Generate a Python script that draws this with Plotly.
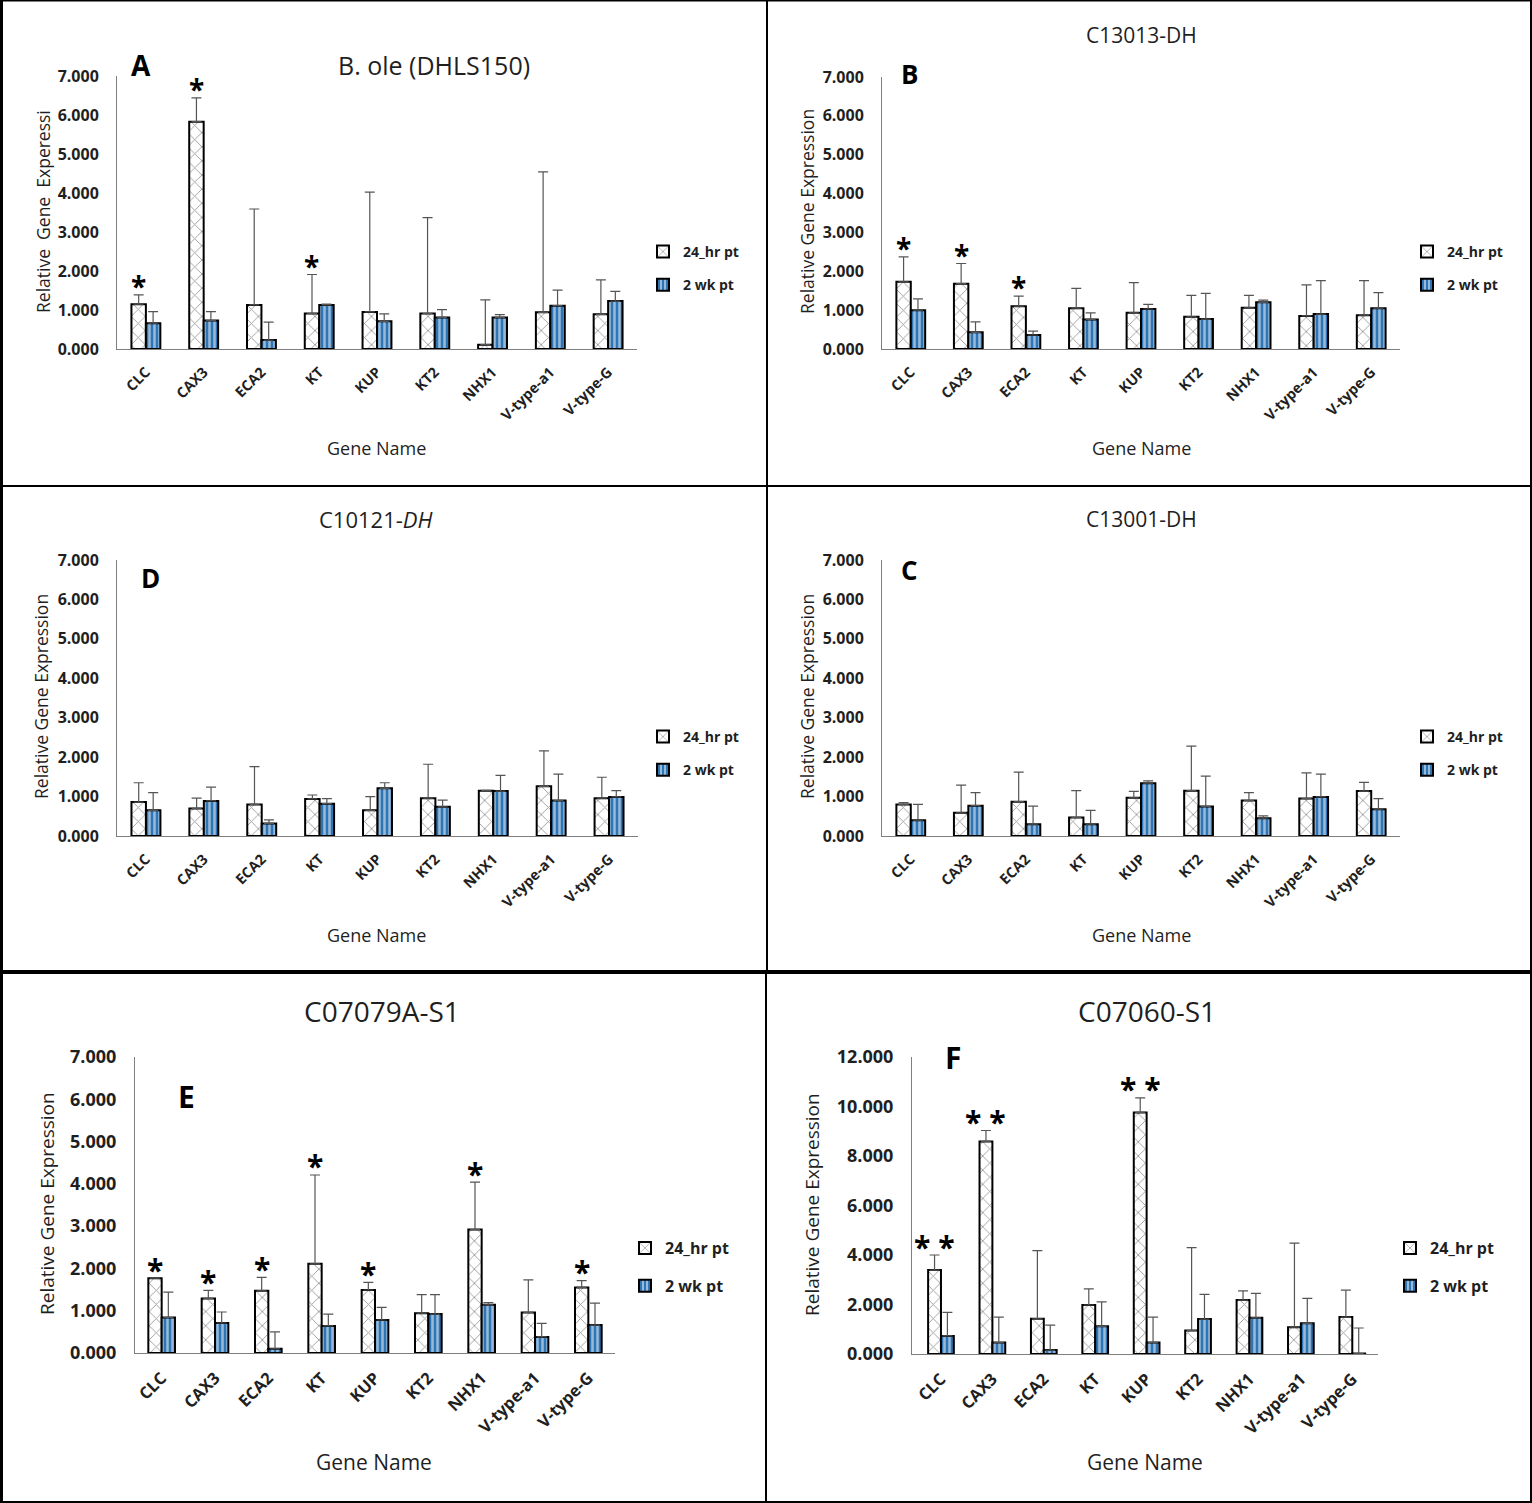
import plotly.graph_objects as go

# ---------------- data ----------------
genes = ["CLC", "CAX3", "ECA2", "KT", "KUP", "KT2", "NHX1", "V-type-a1", "V-type-G"]
series_names = ["24_hr pt", "2 wk pt"]

# Panel A : B. ole (DHLS150)
A_24 = [1.15, 5.83, 1.13, 0.91, 0.95, 0.91, 0.11, 0.94, 0.89]
A_24_err = [0.24, 0.61, 2.46, 1.00, 3.07, 2.46, 1.15, 3.60, 0.88]
A_2wk = [0.66, 0.73, 0.23, 1.13, 0.71, 0.81, 0.81, 1.11, 1.23]
A_2wk_err = [0.30, 0.23, 0.46, 0.02, 0.19, 0.20, 0.07, 0.40, 0.25]
A_sig = ["*", "*", "", "*", "", "", "", "", ""]

# Panel B : C13013-DH
B_24 = [1.73, 1.68, 1.10, 1.05, 0.93, 0.83, 1.06, 0.85, 0.87]
B_24_err = [0.64, 0.52, 0.26, 0.51, 0.78, 0.55, 0.32, 0.80, 0.89]
B_2wk = [1.00, 0.43, 0.36, 0.76, 1.03, 0.77, 1.20, 0.90, 1.05]
B_2wk_err = [0.29, 0.27, 0.10, 0.17, 0.12, 0.66, 0.06, 0.86, 0.40]
B_sig = ["*", "*", "*", "", "", "", "", "", ""]

# Panel D : C10121-DH
D_24 = [0.86, 0.70, 0.80, 0.94, 0.65, 0.96, 1.15, 1.26, 0.96]
D_24_err = [0.49, 0.26, 0.96, 0.10, 0.35, 0.86, 0.01, 0.90, 0.53]
D_2wk = [0.65, 0.89, 0.32, 0.82, 1.21, 0.74, 1.14, 0.90, 0.99]
D_2wk_err = [0.45, 0.35, 0.09, 0.13, 0.14, 0.17, 0.40, 0.67, 0.16]
D_sig = ["", "", "", "", "", "", "", "", ""]

# Panel C : C13001-DH
C_24 = [0.80, 0.59, 0.87, 0.47, 0.97, 1.15, 0.90, 0.95, 1.14]
C_24_err = [0.05, 0.70, 0.75, 0.68, 0.16, 1.13, 0.20, 0.65, 0.22]
C_2wk = [0.40, 0.77, 0.30, 0.30, 1.34, 0.75, 0.45, 0.99, 0.68]
C_2wk_err = [0.40, 0.33, 0.46, 0.35, 0.06, 0.77, 0.06, 0.58, 0.27]
C_sig = ["", "", "", "", "", "", "", "", ""]

# Panel E : C07079A-S1
E_24 = [1.77, 1.29, 1.47, 2.11, 1.49, 0.94, 2.92, 0.96, 1.55]
E_24_err = [0.0, 0.19, 0.32, 2.10, 0.18, 0.44, 1.12, 0.77, 0.16]
E_2wk = [0.84, 0.71, 0.10, 0.64, 0.78, 0.92, 1.14, 0.38, 0.66]
E_2wk_err = [0.60, 0.26, 0.40, 0.28, 0.30, 0.46, 0.05, 0.32, 0.52]
E_sig = ["*", "*", "*", "*", "*", "", "*", "", "*"]

# Panel F : C07060-S1
F_24 = [3.39, 8.59, 1.42, 1.98, 9.76, 0.95, 2.18, 1.08, 1.49]
F_24_err = [0.61, 0.44, 2.76, 0.65, 0.59, 3.35, 0.37, 3.40, 1.09]
F_2wk = [0.73, 0.46, 0.16, 1.12, 0.46, 1.41, 1.46, 1.24, 0.02]
F_2wk_err = [0.95, 1.03, 1.01, 0.99, 1.03, 1.00, 0.99, 1.01, 1.03]
F_sig = ["* *", "* *", "", "", "* *", "", "", "", ""]

# ---------------- styling / layout ----------------
W, H = 1532, 1503
FONT = "Open Sans"
TXT = "#1f1f1f"
BLUE = "#2E75B6"
AXC = "#7f7f7f"

panels = [
    dict(letter="A", title="B. ole (DHLS150)", v24=A_24, e24=A_24_err, v2=A_2wk, e2=A_2wk_err, sig=A_sig,
         ymax=7, dtick=1, box=(117, 637, 76, 349), ytitle="Relative\u00a0 Gene\u00a0 Experessi",
         ytpos=(43, 212), xtpos=(376, 448), ttl=(434, 65, 25), let=(141, 65, 28), leg=(643, 236),
         big=False),
    dict(letter="B", title="C13013-DH", v24=B_24, e24=B_24_err, v2=B_2wk, e2=B_2wk_err, sig=B_sig,
         ymax=7, dtick=1, box=(882, 1400, 77, 349), ytitle="Relative Gene Expression",
         ytpos=(807, 212), xtpos=(1141, 448), ttl=(1141, 35, 21), let=(909, 74, 26), leg=(1407, 236),
         big=False),
    dict(letter="D", title="C10121-<i>DH</i>", v24=D_24, e24=D_24_err, v2=D_2wk, e2=D_2wk_err, sig=D_sig,
         ymax=7, dtick=1, box=(117, 638, 560, 836), ytitle="Relative Gene Expression",
         ytpos=(41, 697), xtpos=(376, 935), ttl=(376, 519, 22), let=(150, 578, 26), leg=(643, 721),
         big=False),
    dict(letter="C", title="C13001-DH", v24=C_24, e24=C_24_err, v2=C_2wk, e2=C_2wk_err, sig=C_sig,
         ymax=7, dtick=1, box=(882, 1400, 560, 836), ytitle="Relative Gene Expression",
         ytpos=(807, 697), xtpos=(1141, 935), ttl=(1141, 519, 21), let=(909, 570, 26), leg=(1407, 721),
         big=False),
    dict(letter="E", title="C07079A-S1", v24=E_24, e24=E_24_err, v2=E_2wk, e2=E_2wk_err, sig=E_sig,
         ymax=7, dtick=1, box=(135, 615, 1057, 1353), ytitle="Relative Gene Expression",
         ytpos=(47, 1204), xtpos=(374, 1462), ttl=(382, 1011, 28), let=(186, 1096, 30), leg=(625, 1231),
         big=True),
    dict(letter="F", title="C07060-S1", v24=F_24, e24=F_24_err, v2=F_2wk, e2=F_2wk_err, sig=F_sig,
         ymax=12, dtick=2, box=(912, 1378, 1057, 1354), ytitle="Relative Gene Expression",
         ytpos=(812, 1205), xtpos=(1145, 1462), ttl=(1147, 1011, 28), let=(953, 1057, 30), leg=(1390, 1231),
         big=True),
]

fig = go.Figure()
annotations = []
layout = {}


def paper_text(text, px, py, size, bold=False, angle=0, color=TXT):
    return dict(text=text, x=px / W, y=1 - py / H, xref="paper", yref="paper",
                xanchor="center", yanchor="middle", textangle=angle, showarrow=False,
                font=dict(family=FONT, size=size, color=color, weight="bold" if bold else "normal"))


for i, p in enumerate(panels, start=1):
    sfx = "" if i == 1 else str(i)
    xa, ya = "x" + sfx, "y" + sfx
    lg = "legend" + sfx
    x0, x1, yt, yb = p["box"]
    big = p["big"]

    fig.add_trace(go.Bar(
        x=genes, y=p["v24"], name=series_names[0], xaxis=xa, yaxis=ya, legend=lg,
        legendgroup=p["letter"] + "a",
        marker=dict(color="white", line=dict(color="black", width=2),
                    pattern=dict(shape="x", fgcolor="#333333", bgcolor="white", size=10, solidity=0.17)),
        error_y=dict(type="data", symmetric=False, array=p["e24"], arrayminus=[0] * len(genes),
                     color="#555555", thickness=1.2, width=5),
    ))
    fig.add_trace(go.Bar(
        x=genes, y=p["v2"], name=series_names[1], xaxis=xa, yaxis=ya, legend=lg,
        legendgroup=p["letter"] + "b",
        marker=dict(color=BLUE, line=dict(color="black", width=2),
                    pattern=dict(shape="|", fgcolor="white", bgcolor=BLUE, size=5, solidity=0.5)),
        error_y=dict(type="data", symmetric=False, array=p["e2"], arrayminus=[0] * len(genes),
                     color="#555555", thickness=1.2, width=5),
    ))

    layout["xaxis" + sfx] = dict(
        domain=[x0 / W, x1 / W], anchor=ya, showline=True, linecolor=AXC, linewidth=1,
        showgrid=False, zeroline=False, ticks="", tickangle=-45, ticklabelstandoff=8,
        tickfont=dict(family=FONT, size=16.5 if big else 14.5, color=TXT, weight="bold"),
        fixedrange=True, automargin=False,
    )
    layout["yaxis" + sfx] = dict(
        domain=[1 - yb / H, 1 - yt / H], anchor=xa, range=[0, p["ymax"]], dtick=p["dtick"],
        tickformat=".3f", showline=True, linecolor=AXC, linewidth=1, showgrid=False,
        zeroline=False, ticks="", ticklabelstandoff=14,
        tickfont=dict(family=FONT, size=18 if big else 16, color=TXT, weight="bold"),
        fixedrange=True, automargin=False,
    )
    layout[lg] = dict(
        x=p["leg"][0] / W, y=1 - p["leg"][1] / H, xanchor="left", yanchor="top",
        xref="container", yref="container",
        bgcolor="rgba(0,0,0,0)", traceorder="grouped", tracegroupgap=12 if not big else 14,
        font=dict(family=FONT, size=16 if big else 14, color=TXT, weight="bold"),
    )

    tx, ty, ts = p["ttl"]
    annotations.append(paper_text(p["title"], tx, ty, ts))
    lx, ly, ls = p["let"]
    annotations.append(paper_text(p["letter"], lx, ly, ls, bold=True, color="black"))
    ax_, ay_ = p["ytpos"]
    annotations.append(paper_text(p["ytitle"], ax_, ay_, 19 if big else 17.5, angle=-90))
    gx, gy = p["xtpos"]
    annotations.append(paper_text("Gene Name", gx, gy, 21 if big else 18))

    # significance marks over the 24 h bars
    shift = -((x1 - x0) / len(genes)) * 0.125
    for g, v, e, s in zip(genes, p["v24"], p["e24"], p["sig"]):
        if s:
            annotations.append(dict(text=s, x=g, y=v + e, xref=xa, yref=ya, xshift=shift, yshift=9,
                                    xanchor="center", yanchor="middle", showarrow=False,
                                    font=dict(family=FONT, size=30 if big else 28, color="black",
                                              weight="bold")))

# panel frame lines
shapes = []


def ln(xa0, ya0, xa1, ya1, w):
    shapes.append(dict(type="line", xref="paper", yref="paper", x0=xa0 / W, y0=1 - ya0 / H,
                       x1=xa1 / W, y1=1 - ya1 / H, line=dict(color="black", width=w)))


ln(1.5, 0, 1.5, H, 3)
ln(W - 1, 0, W - 1, H, 2)
ln(0, 0.5, W, 0.5, 2)
ln(0, H - 1, W, H - 1, 2)
ln(767, 0, 767, 972, 2)
ln(766, 972, 766, H, 2)
ln(0, 486, W, 486, 2)
ln(0, 972, W, 972, 4)

layout.update(dict(
    width=W, height=H, margin=dict(l=0, r=0, t=0, b=0, pad=0, autoexpand=False),
    paper_bgcolor="white", plot_bgcolor="white",
    barmode="group", bargap=0.5, bargroupgap=0,
    annotations=annotations, shapes=shapes,
    font=dict(family=FONT, color=TXT),
))
fig.update_layout(**layout)

pin = ("document.documentElement.style.margin='0';document.body.style.margin='0';"
       "document.body.style.overflow='hidden';"
       "var d=document.getElementById('{plot_id}');"
       "d.style.position='fixed';d.style.left='0px';d.style.top='0px';")
fig.write_html("out.html", config={"displayModeBar": False}, post_script=pin)
